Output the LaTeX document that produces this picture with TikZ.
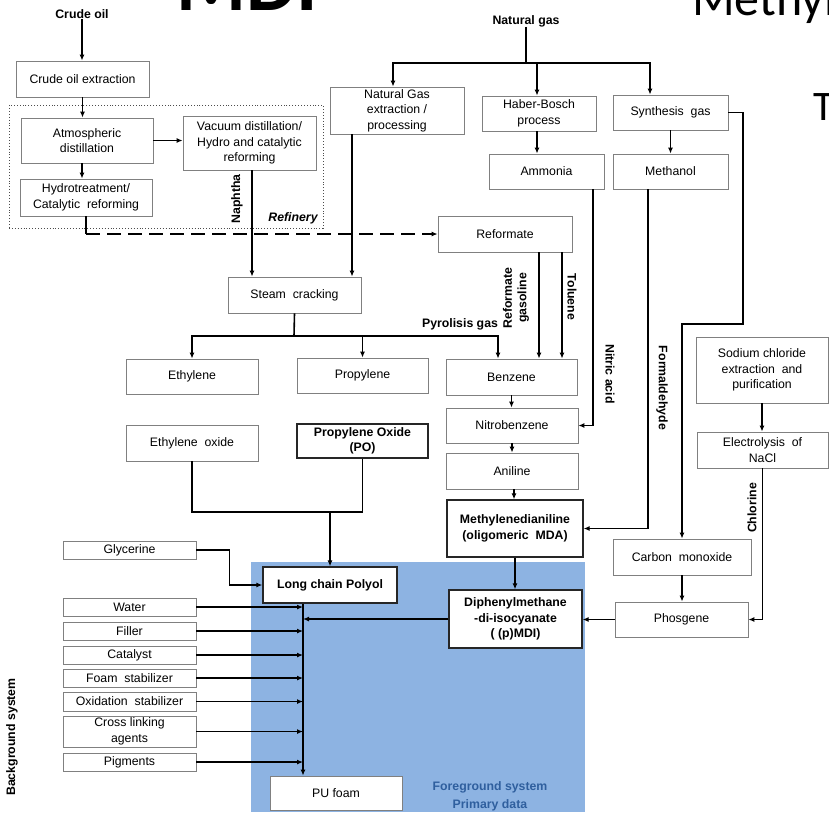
\documentclass[tikz,border=0pt]{standalone}
\usepackage{fontspec}
\setmainfont{Liberation Sans}
\newfontfamily\titlefont{Carlito}
\usetikzlibrary{arrows.meta}
\definecolor{bgblue}{HTML}{8DB3E2}
\definecolor{fgblue}{HTML}{2F5F9E}
\definecolor{boxgray}{HTML}{808080}
\begin{document}
\begin{tikzpicture}[x=1pt,y=-1pt,
 box/.style={draw=boxgray, line width=0.8pt, fill=white, align=center, inner sep=1pt, font=\fontsize{12.3}{15.5}\selectfont},
 bbox/.style={box, draw=black!85, line width=1.3pt, font=\bfseries\fontsize{12.3}{15.5}\selectfont},
 lab/.style={font=\bfseries\fontsize{12.3}{14.5}\selectfont, inner sep=0pt, align=center},
 con/.style={line width=1.6pt},
 arr/.style={con, -{Latex[length=6pt,width=5pt]}},
 refbox/.style={draw=black!70, dotted, line width=0.9pt, inner sep=0pt}
]
\useasboundingbox (0,0) rectangle (829,812);
% titles (clipped at the page edge as in the reference)
\begin{scope}
\clip (0,0) rectangle (829,812);
\node[anchor=base west, inner sep=0pt, font=\titlefont\bfseries\fontsize{80}{80}\selectfont] (ttl) at (176,10) {MDI};
\node[anchor=base west, inner sep=0pt, font=\titlefont\fontsize{50}{50}\selectfont] (ttl2) at (692,15) {Methyl};
\node[anchor=base west, inner sep=0pt, font=\titlefont\fontsize{42}{42}\selectfont] (ttl3) at (813,120) {T};
\end{scope}
% foreground background
\fill[bgblue] (251,562) rectangle (585,812);
% refinery
\node[refbox, minimum width=314, minimum height=123] (refinery) at (166,166.5) {};
% boxes
\node[box, minimum width=133, minimum height=36] (ext) at (82.5,79) {Crude oil extraction};
\node[box, minimum width=132, minimum height=45] (atm) at (87,140.5) {Atmospheric\\distillation};
\node[box, minimum width=133, minimum height=54] (vac) at (249.5,143) {Vacuum distillation/\\Hydro and catalytic\\reforming};
\node[box, minimum width=132, minimum height=37] (hyd) at (86,197.5) {Hydrotreatment/\\Catalytic\ \ reforming};
\node[box, minimum width=134, minimum height=47] (ngx) at (397,110.5) {Natural Gas\\extraction /\\processing};
\node[box, minimum width=114, minimum height=35] (hb) at (539,113.5) {Haber-Bosch\\process};
\node[box, minimum width=115, minimum height=35] (amm) at (546.5,171.5) {Ammonia};
\node[box, minimum width=115, minimum height=35] (syn) at (670.5,112.5) {Synthesis\ \ gas};
\node[box, minimum width=115, minimum height=35] (meth) at (670.5,171.5) {Methanol};
\node[box, minimum width=134, minimum height=36] (ref) at (505,234) {Reformate};
\node[box, minimum width=133, minimum height=36] (steam) at (294.5,295) {Steam\ \ cracking};
\node[box, minimum width=132, minimum height=35] (eth) at (192,376.5) {Ethylene};
\node[box, minimum width=131, minimum height=35] (prop) at (362.5,375.5) {Propylene};
\node[box, minimum width=131, minimum height=36] (benz) at (511.5,377) {Benzene};
\node[box, minimum width=132, minimum height=36] (eo) at (192,443) {Ethylene\ \ oxide};
\node[bbox, minimum width=131, minimum height=34] (po) at (362.5,441) {Propylene Oxide\\(PO)};
\node[box, minimum width=132, minimum height=35] (nitro) at (512,425.5) {Nitrobenzene};
\node[box, minimum width=132, minimum height=36] (anil) at (512,471) {Aniline};
\node[bbox, minimum width=136, minimum height=57] (mda) at (515,528.5) {Methylenedianiline\\(oligomeric\ \ MDA)};
\node[bbox, minimum width=133, minimum height=58] (mdi) at (515.5,619) {Diphenylmethane\\-di-isocyanate\\( (p)MDI)};
\node[box, minimum width=132, minimum height=66] (nacl) at (762,370) {Sodium chloride\\extraction\ \ and\\purification};
\node[box, minimum width=131, minimum height=36] (elec) at (762.5,450) {Electrolysis\ \ of\\NaCl};
\node[box, minimum width=138, minimum height=36] (co) at (682,557) {Carbon\ \ monoxide};
\node[box, minimum width=133, minimum height=35] (phos) at (681.5,619.5) {Phosgene};
\node[box, minimum width=133, minimum height=18] (gly) at (129.5,550) {Glycerine};
\node[bbox, minimum width=134, minimum height=36] (polyol) at (330,585) {Long chain Polyol};
\node[box, minimum width=133, minimum height=18] (water) at (129.5,607) {Water};
\node[box, minimum width=133, minimum height=18] (filler) at (129.5,631) {Filler};
\node[box, minimum width=133, minimum height=18] (cat) at (129.5,655) {Catalyst};
\node[box, minimum width=133, minimum height=18] (foam) at (129.5,678) {Foam\ \ stabilizer};
\node[box, minimum width=133, minimum height=19] (oxid) at (129.5,701.5) {Oxidation\ \ stabilizer};
\node[box, minimum width=133, minimum height=31] (cross) at (129.5,731.5) {Cross linking\\agents};
\node[box, minimum width=133, minimum height=18] (pig) at (129.5,762) {Pigments};
\node[box, minimum width=132, minimum height=34] (pu) at (336,793) {PU foam};
% labels
\node[lab] (crude) at (82,14) {Crude oil};
\node[lab] (ng) at (526,21) {Natural gas};
\node[lab, rotate=90] (naph) at (237,199) {Naphtha};
\node[lab, font=\bfseries\itshape\fontsize{12.3}{14}\selectfont] (refl) at (293,218) {Refinery};
\node[lab, rotate=90] (rg) at (516,298) {Reformate\\gasoline};
\node[lab, rotate=-90] (tol) at (572,297) {Toluene};
\node[lab] (pyro) at (460,324) {Pyrolisis gas};
\node[lab, rotate=-90] (nitric) at (610,374) {Nitric acid};
\node[lab, rotate=-90] (form) at (662,388) {Formaldehyde};
\node[lab, rotate=90] (chl) at (752,508) {Chlorine};
\node[lab, rotate=90] (bgs) at (12,737) {Background system};
\node[lab, text=fgblue] (fg1) at (490,787) {Foreground system};
\node[lab, text=fgblue] (fg2) at (490,805) {Primary data};
% junctions
\coordinate (ngj) at (526,63);
\coordinate (sj) at (294,336);
\coordinate (sc) at (743,324);
\coordinate (pj) at (330,512);
\coordinate (bus) at ([xshift=-27pt]polyol.south);
% connectors: crude oil
\draw[arr] (crude.south) -- (crude.south |- ext.north);
\draw[arr] (ext.south) -- (ext.south |- atm.north);
\draw[arr] (atm.east) -- (atm.east -| vac.west);
\draw[arr] ([xshift=-5pt]atm.south) -- ([xshift=-5pt]atm.south |- hyd.north);
\draw[con] (hyd.south) -- (hyd.south |- ref.west);
\draw[arr, dash pattern=on 14pt off 7pt] (hyd.south |- ref.west) -- (ref.west);
\draw[arr] ([xshift=2.5pt]vac.south) -- ([xshift=2.5pt]vac.south |- steam.north);
% natural gas
\draw[con] (ng.south) -- (ngj);
\draw[arr] (ngj) -| ([xshift=-4pt]ngx.north);
\draw[arr] (ngj) -| ([xshift=-2pt]hb.north);
\draw[arr] (ngj) -| ([xshift=-20.5pt]syn.north);
\draw[arr] ([xshift=-45pt]ngx.south) -- ([xshift=-45pt]ngx.south |- steam.north);
\draw[arr] ([xshift=-2pt]hb.south) -- ([xshift=-2pt]hb.south |- amm.north);
\draw[arr] (syn.south -| meth.north) -- (meth.north);
\draw[arr] (syn.east) -| (sc) -| (co.north);
\draw[arr] ([xshift=46.5pt]amm.south) |- (nitro.east);
\draw[arr] ([xshift=-22.5pt]meth.south) |- (mda.east);
% steam cracking
\draw[con] (steam.south) -- (sj);
\draw[arr] (sj) -| (eth.north);
\draw[arr] (sj) -| ([xshift=-13.5pt]benz.north);
\draw[arr] (prop.north |- sj) -- (prop.north);
% reformate
\draw[arr] ([xshift=34pt]ref.south) -- ([xshift=34pt]ref.south |- benz.north);
\draw[arr] ([xshift=57pt]ref.south) -- ([xshift=57pt]ref.south |- benz.north);
% aromatics chain
\draw[arr] (benz.south) -- (benz.south |- nitro.north);
\draw[arr] (nitro.south) -- (nitro.south |- anil.north);
\draw[arr] ([xshift=2pt]anil.south) -- ([xshift=2pt]anil.south |- mda.north);
\draw[arr] (mda.south) -- (mda.south |- mdi.north);
\draw[arr] (phos.west) -- (phos.west -| mdi.east);
\draw[arr] (co.south) -- (co.south |- phos.north);
\draw[arr] (nacl.south) -- (nacl.south |- elec.north);
\draw[arr] (elec.south) |- (phos.east);
% polyol
\draw[con] (eo.south) |- (pj);
\draw[con] (po.south) |- (pj);
\draw[arr] (pj) -- (polyol.north);
\draw[arr] (gly.east) -- ++(33,0) |- (polyol.west);
\draw[arr] (bus) -- (bus |- pu.north);
\draw[arr] (mdi.west) -- (mdi.west -| bus);
\foreach \n in {water,filler,cat,foam,oxid,cross,pig}{
  \draw[arr] (\n.east) -- (\n.east -| bus);
}
\end{tikzpicture}
\end{document}
